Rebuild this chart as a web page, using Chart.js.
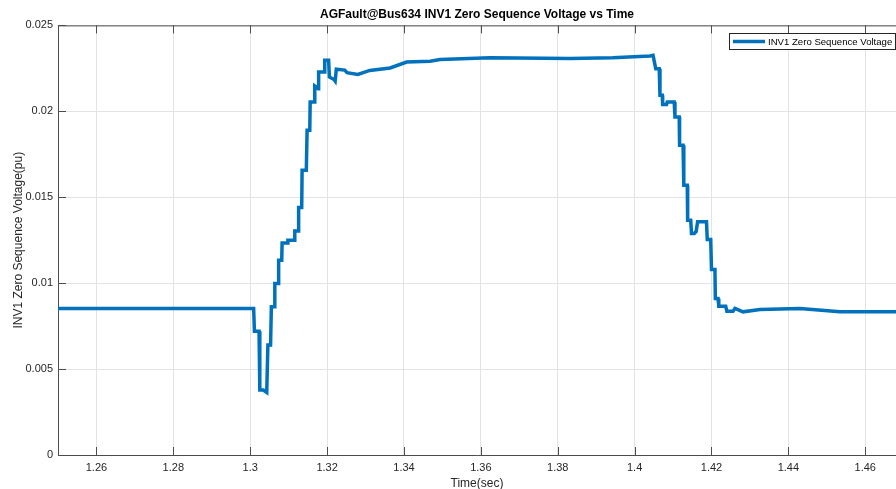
<!DOCTYPE html>
<html>
<head>
<meta charset="utf-8">
<script src="https://cdn.jsdelivr.net/npm/chart.js@4"></script>
<style>
  body { margin: 0; background: #fff; }
  canvas { display: block; }
</style>
</head>
<body>
<canvas id="zeroSeqChart" width="896" height="489"></canvas>
<script>
// time (sec) and INV1 zero sequence voltage (pu)
var timeSec = [
  1.2500, 1.3009, 1.3011, 1.3023, 1.3025, 1.3034, 1.3043, 1.3046, 1.3053, 1.3055,
  1.3062, 1.3064, 1.3073, 1.3074, 1.3082, 1.3083, 1.3096, 1.3098, 1.3114, 1.3116,
  1.3125, 1.3126, 1.3134, 1.3135, 1.3146, 1.3148, 1.3155, 1.3156, 1.3166, 1.3168,
  1.3177, 1.3178, 1.3192, 1.3194, 1.3204, 1.3206, 1.3218, 1.3221, 1.3224, 1.3246,
  1.3252, 1.3280, 1.3311, 1.3364, 1.3407, 1.3468, 1.3494, 1.3624, 1.3832, 1.3943,
  1.4040, 1.4048, 1.4055, 1.4064, 1.4066, 1.4072, 1.4073, 1.4083, 1.4085, 1.4103,
  1.4105, 1.4116, 1.4117, 1.4126, 1.4128, 1.4137, 1.4138, 1.4146, 1.4148, 1.4155,
  1.4160, 1.4164, 1.4187, 1.4189, 1.4198, 1.4200, 1.4209, 1.4210, 1.4217, 1.4219,
  1.4237, 1.4240, 1.4256, 1.4261, 1.4270, 1.4282, 1.4326, 1.4430, 1.4534, 1.4680
];
var zeroSeqVoltage = [
  0.00853, 0.00853, 0.00720, 0.00720, 0.00378, 0.00378, 0.00364, 0.00640, 0.00640, 0.00862,
  0.00862, 0.00998, 0.00998, 0.01134, 0.01134, 0.01234, 0.01234, 0.01250, 0.01250, 0.01304,
  0.01304, 0.01440, 0.01440, 0.01657, 0.01657, 0.01890, 0.01890, 0.02054, 0.02054, 0.02147,
  0.02132, 0.02229, 0.02229, 0.02297, 0.02297, 0.02200, 0.02185, 0.02176, 0.02245, 0.02240,
  0.02225, 0.02215, 0.02238, 0.02252, 0.02287, 0.02292, 0.02302, 0.02312, 0.02308, 0.02312,
  0.02322, 0.02326, 0.02248, 0.02248, 0.02093, 0.02093, 0.02039, 0.02039, 0.02054, 0.02054,
  0.01967, 0.01967, 0.01802, 0.01802, 0.01570, 0.01570, 0.01366, 0.01366, 0.01289, 0.01289,
  0.01300, 0.01357, 0.01357, 0.01254, 0.01254, 0.01080, 0.01080, 0.00911, 0.00911, 0.00866,
  0.00866, 0.00837, 0.00837, 0.00853, 0.00845, 0.00833, 0.00847, 0.00853, 0.00833, 0.00833
];
var xTicks = [1.26, 1.28, 1.30, 1.32, 1.34, 1.36, 1.38, 1.40, 1.42, 1.44, 1.46];
var xTickLabels = ["1.26", "1.28", "1.3", "1.32", "1.34", "1.36", "1.38", "1.4", "1.42", "1.44", "1.46"];
var yTicks = [0, 0.005, 0.01, 0.015, 0.02, 0.025];
var yTickLabels = ["0", "0.005", "0.01", "0.015", "0.02", "0.025"];
var seriesName = "INV1 Zero Sequence Voltage";

var lineColor = "#0072bd";
var axisColor = "#4d4d4d";
var textColor = "#262626";
var fontFamily = "'Liberation Sans', Arial, sans-serif";

var points = timeSec.map(function (t, i) {
  return { x: t, y: zeroSeqVoltage[i] };
});

// matlab-ish box: top border, inward ticks, legend box in the corner
var boxPlugin = {
  id: "matlabBox",
  afterDraw: function (chart) {
    var ctx = chart.ctx;
    var a = chart.chartArea;
    var xs = chart.scales.x;
    var ys = chart.scales.y;
    ctx.save();
    ctx.strokeStyle = axisColor;
    ctx.lineWidth = 1;
    ctx.beginPath();
    ctx.moveTo(a.left, a.top + 0.5);
    ctx.lineTo(a.right, a.top + 0.5);
    xTicks.forEach(function (v) {
      var px = Math.round(xs.getPixelForValue(v)) + 0.5;
      ctx.moveTo(px, a.bottom);
      ctx.lineTo(px, a.bottom - 8);
      ctx.moveTo(px, a.top);
      ctx.lineTo(px, a.top + 8);
    });
    yTicks.forEach(function (v) {
      var py = Math.round(ys.getPixelForValue(v)) + 0.5;
      ctx.moveTo(a.left, py);
      ctx.lineTo(a.left + 8, py);
    });
    ctx.stroke();

    // legend
    var bx = 729.5, by = 33.5, bw = 166, bh = 16;
    ctx.fillStyle = "#fff";
    ctx.fillRect(bx, by, bw, bh);
    ctx.strokeStyle = "#262626";
    ctx.strokeRect(bx, by, bw, bh);
    ctx.strokeStyle = lineColor;
    ctx.lineWidth = 3.5;
    ctx.beginPath();
    ctx.moveTo(733, by + bh / 2);
    ctx.lineTo(765, by + bh / 2);
    ctx.stroke();
    ctx.fillStyle = "#000";
    ctx.font = "9.6px " + fontFamily;
    ctx.textBaseline = "middle";
    ctx.textAlign = "left";
    ctx.fillText(seriesName, 768, by + bh / 2 + 0.5);
    ctx.restore();
  }
};

var ctx = document.getElementById("zeroSeqChart").getContext("2d");
var myChart = new Chart(ctx, {
  type: "line",
  data: {
    datasets: [
      {
        label: seriesName,
        data: points,
        borderColor: lineColor,
        backgroundColor: lineColor,
        borderWidth: 3.5,
        pointRadius: 0,
        tension: 0,
        fill: false,
      },
    ],
  },
  options: {
    responsive: false,
    animation: false,
    layout: { padding: { left: 0, right: 0, top: 0, bottom: 0 } },
    plugins: {
      legend: { display: false },
      tooltip: { enabled: false },
      title: {
        display: true,
        fullSize: false,
        text: "AGFault@Bus634 INV1 Zero Sequence Voltage vs Time",
        color: "#000",
        font: { family: fontFamily, size: 12, weight: "bold" },
        padding: { top: 7, bottom: 4 },
      },
    },
    scales: {
      x: {
        type: "linear",
        min: 1.25,
        max: 1.468,
        afterBuildTicks: function (scale) {
          scale.ticks = xTicks.map(function (v) { return { value: v }; });
        },
        afterFit: function (scale) { scale.height = 34; },
        ticks: {
          autoSkip: false,
          maxRotation: 0,
          padding: 6,
          color: textColor,
          font: { family: fontFamily, size: 11 },
          callback: function (value) {
            var i = xTicks.indexOf(value);
            return i >= 0 ? xTickLabels[i] : "";
          },
        },
        grid: { color: "#e3e3e3", drawTicks: false },
        border: { color: axisColor, width: 1 },
        title: {
          display: true,
          text: "Time(sec)",
          color: textColor,
          font: { family: fontFamily, size: 12 },
          padding: { top: 0, bottom: -2 },
        },
      },
      y: {
        min: 0,
        max: 0.025,
        afterBuildTicks: function (scale) {
          scale.ticks = yTicks.map(function (v) { return { value: v }; });
        },
        afterFit: function (scale) { scale.width = 58; },
        ticks: {
          padding: 5,
          color: textColor,
          font: { family: fontFamily, size: 11 },
          callback: function (value) {
            var i = yTicks.indexOf(value);
            return i >= 0 ? yTickLabels[i] : "";
          },
        },
        grid: { color: "#e3e3e3", drawTicks: false },
        border: { color: axisColor, width: 1 },
        title: {
          display: true,
          text: "INV1 Zero Sequence Voltage(pu)",
          color: textColor,
          font: { family: fontFamily, size: 12 },
          padding: { top: 11, bottom: 0 },
        },
      },
    },
  },
  plugins: [boxPlugin],
});
</script>
</body>
</html>
